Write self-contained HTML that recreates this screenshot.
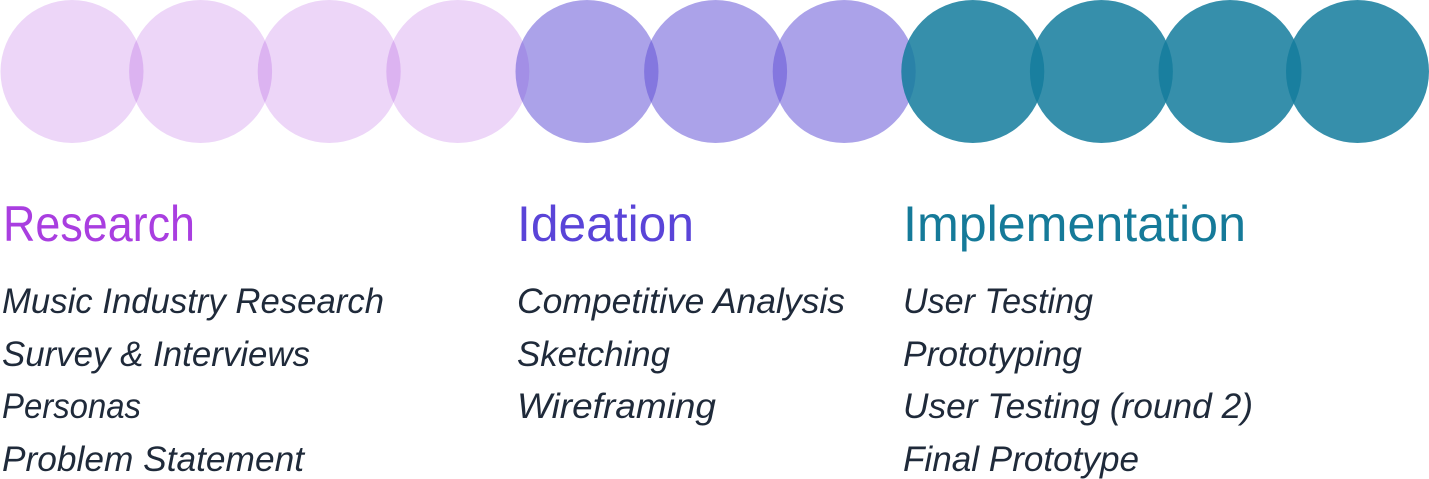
<!DOCTYPE html>
<html><head><meta charset="utf-8"><style>
html,body{margin:0;padding:0;background:#fff;}
svg{display:block;}
</style></head><body>
<svg width="1429" height="479" viewBox="0 0 1429 479" xmlns="http://www.w3.org/2000/svg">
<g style="mix-blend-mode:multiply">
<circle cx="72" cy="71.5" r="71.5" fill="#edd6f8" style="mix-blend-mode:multiply"/>
<circle cx="200.6" cy="71.5" r="71.5" fill="#edd6f8" style="mix-blend-mode:multiply"/>
<circle cx="329.2" cy="71.5" r="71.5" fill="#edd6f8" style="mix-blend-mode:multiply"/>
<circle cx="457.8" cy="71.5" r="71.5" fill="#edd6f8" style="mix-blend-mode:multiply"/>
</g>
<g fill="rgba(98,82,214,0.536)">
<circle cx="587" cy="71.5" r="71.5"/>
<circle cx="715.6" cy="71.5" r="71.5"/>
<circle cx="844.2" cy="71.5" r="71.5"/>
</g>
<g fill="rgba(21,125,157,0.86)">
<circle cx="972.8" cy="71.5" r="71.5"/>
<circle cx="1101.4" cy="71.5" r="71.5"/>
<circle cx="1230" cy="71.5" r="71.5"/>
<circle cx="1357.5" cy="71.5" r="71.5"/>
</g>
<g font-family="Liberation Sans, sans-serif" font-size="50">
<text x="3" y="241" fill="#a93ee0" textLength="192" lengthAdjust="spacingAndGlyphs">Research</text>
<text x="517" y="241" fill="#5a44d8" textLength="177" lengthAdjust="spacingAndGlyphs">Ideation</text>
<text x="903" y="241" fill="#157a99" textLength="343" lengthAdjust="spacingAndGlyphs">Implementation</text>
</g>
<g font-family="Liberation Sans, sans-serif" font-size="35" font-style="italic" fill="#1f2a3a" lengthAdjust="spacingAndGlyphs">
<text x="2" y="313" textLength="382" lengthAdjust="spacingAndGlyphs">Music Industry Research</text>
<text x="2" y="366" textLength="308" lengthAdjust="spacingAndGlyphs">Survey &amp; Interviews</text>
<text x="2" y="418" textLength="139" lengthAdjust="spacingAndGlyphs">Personas</text>
<text x="2" y="471" textLength="302" lengthAdjust="spacingAndGlyphs">Problem Statement</text>
<text x="517" y="313" textLength="328" lengthAdjust="spacingAndGlyphs">Competitive Analysis</text>
<text x="517" y="366" textLength="153" lengthAdjust="spacingAndGlyphs">Sketching</text>
<text x="517" y="418" textLength="199" lengthAdjust="spacingAndGlyphs">Wireframing</text>
<text x="903" y="313" textLength="190" lengthAdjust="spacingAndGlyphs">User Testing</text>
<text x="903" y="366" textLength="179" lengthAdjust="spacingAndGlyphs">Prototyping</text>
<text x="903" y="418" textLength="350" lengthAdjust="spacingAndGlyphs">User Testing (round 2)</text>
<text x="903" y="471" textLength="236" lengthAdjust="spacingAndGlyphs">Final Prototype</text>
</g>
</svg>
</body></html>
